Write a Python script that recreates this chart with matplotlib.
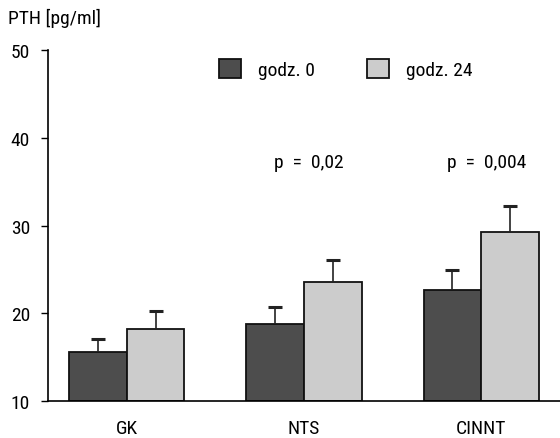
import numpy as np
import matplotlib.pyplot as plt
from matplotlib import font_manager

names = set(f.name for f in font_manager.fontManager.ttflist)
fam = 'DejaVu Sans'
for cand in ['Roboto Condensed', 'Liberation Sans Narrow', 'Open Sans Condensed']:
    if cand in names:
        fam = cand
        break
plt.rcParams['font.family'] = [fam, 'DejaVu Sans']
plt.rcParams['font.stretch'] = 'condensed'

groups = ['GK', 'NTS', 'CINNT']
godz0 = [15.6, 18.8, 22.6]
godz0_err = [1.5, 1.9, 2.3]
godz24 = [18.2, 23.6, 29.3]
godz24_err = [2.0, 2.5, 2.9]
pvals = ['', 'p  =  0,02', 'p  =  0,004']

fs = 14
fig = plt.figure(figsize=(5.6, 4.39), dpi=100)
ax = fig.add_axes([48/560, 37/439, 512/560, 351/439])

x = np.arange(len(groups))
w = 0.325
bot = 10

ax.bar(x - w/2, np.array(godz0) - bot, w, bottom=bot, color='#4d4d4d',
       edgecolor='#111111', linewidth=1.3, label='godz. 0', zorder=2)
ax.bar(x + w/2, np.array(godz24) - bot, w, bottom=bot, color='#cccccc',
       edgecolor='#111111', linewidth=1.3, label='godz. 24', zorder=2)

# only upper whiskers
for xs, vals, errs in [(x - w/2, godz0, godz0_err), (x + w/2, godz24, godz24_err)]:
    eb = ax.errorbar(xs, vals, yerr=[np.zeros(3), errs], fmt='none',
                     ecolor='#222222', elinewidth=1.2, capsize=5, capthick=2.2,
                     zorder=3)
    eb[1][0].set_visible(False)

for i, p in enumerate(pvals):
    if p:
        ax.text(x[i] + 0.03, 37.2, p, ha='center', va='center', fontsize=fs)

ax.set_xlim(-0.446, 2.446)
ax.set_ylim(10, 50)
ax.set_yticks([10, 20, 30, 40, 50])
ax.set_xticks(x)
ax.set_xticklabels(groups)
ax.tick_params(axis='y', length=5, width=1, pad=8, labelsize=fs)
ax.tick_params(axis='x', length=0, pad=13, labelsize=fs)

for s in ['top', 'right']:
    ax.spines[s].set_visible(False)
ax.spines['left'].set_linewidth(1.2)
ax.spines['bottom'].set_linewidth(1.2)

fig.text(8/560, 1 - 18/439, 'PTH [pg/ml]', ha='left', va='center', fontsize=fs)

ax.legend(loc='upper left', bbox_to_anchor=(209/560, 1 - 50/439),
          bbox_transform=fig.transFigure, ncol=2, frameon=False,
          borderpad=0, handlelength=1.13, handleheight=1.13,
          handletextpad=0.88, columnspacing=2.68, fontsize=fs)

fig.savefig('out.png', dpi=100)
